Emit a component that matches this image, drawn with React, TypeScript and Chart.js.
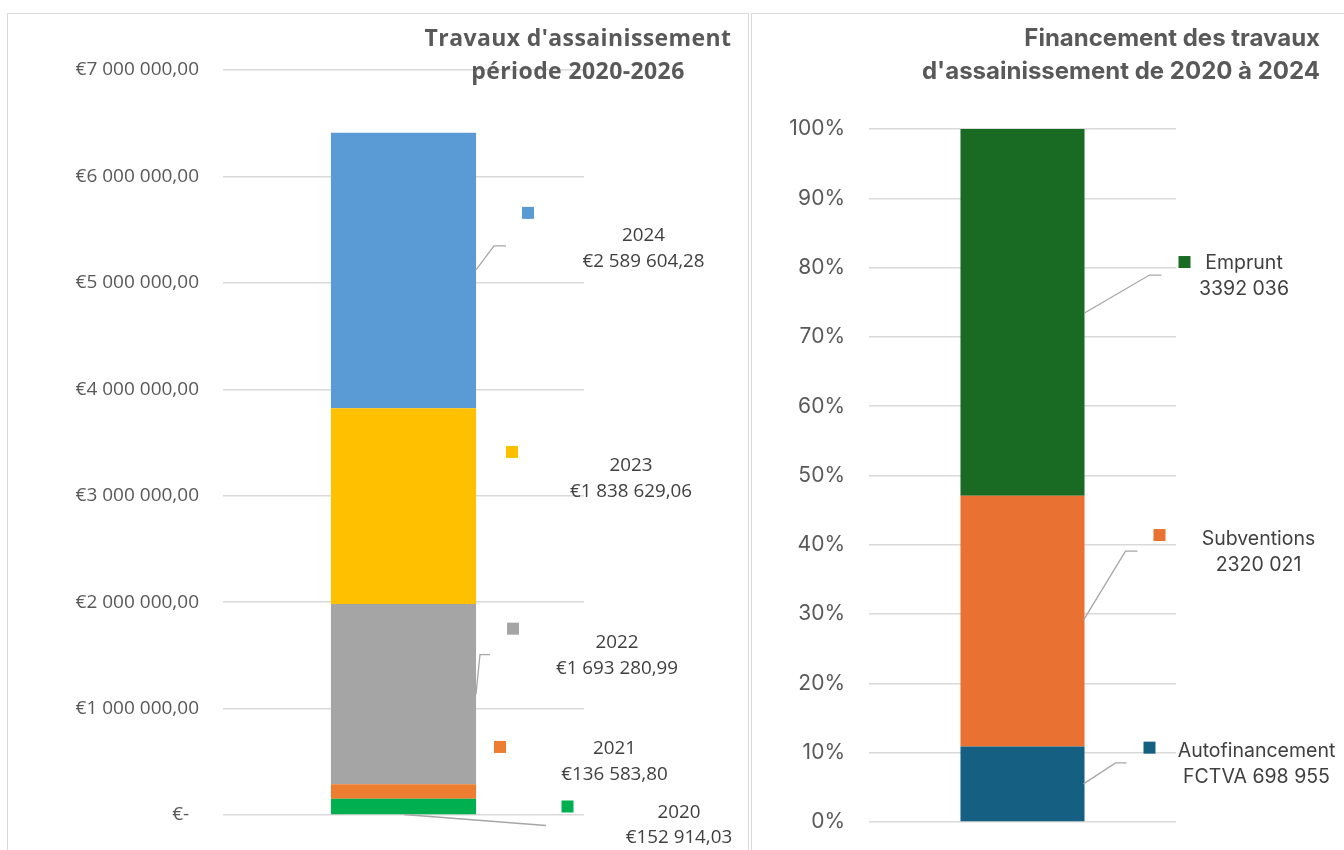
import React, { useEffect, useRef } from 'react';
import { Chart, registerables } from 'chart.js';

Chart.register(...registerables);

// ---------- Data: left chart (works per year) ----------
const worksYears = ['2020', '2021', '2022', '2023', '2024'];
const worksAmounts = [152914.03, 136583.8, 1693280.99, 1838629.06, 2589604.28];
const worksColors = ['#00B050', '#ED7D31', '#A5A5A5', '#FFC000', '#5B9BD5'];
const worksAxisMax = 7000000;
const worksAxisStep = 1000000;
const worksTitle = ["Travaux d'assainissement", 'période 2020-2026'];

// ---------- Data: right chart (financing) ----------
const fundingNames = ['Autofinancement FCTVA', 'Subventions', 'Emprunt'];
const fundingAmounts = [698955, 2320021, 3392036];
const fundingColors = ['#156082', '#E97132', '#196B24'];
const percentStep = 0.1;
const fundingTitle = ['Financement des travaux', "d'assainissement de 2020 à 2024"];

// ---------- Label placement (offsets from each segment's centre, px) ----------
type Lay = { tx: number; ty: number; kx: number; ky: number; leader: number[][] | null };
const worksLabelLayout: Lay[] = [
  { tx: 275.5, ty: 6, kx: 164, ky: 0, leader: [[0.5, 8], [142.5, 19]] },
  { tx: 211, ty: -42.8, kx: 96.5, ky: -44.5, leader: null },
  { tx: 213.5, ty: -51.4, kx: 109.5, ky: -65.4, leader: [[72.5, 0], [76.5, -39.4], [86.5, -39.4]] },
  { tx: 227.5, ty: -40.2, kx: 108.5, ky: -54.2, leader: null },
  { tx: 240, ty: -34.6, kx: 124.5, ky: -57.6, leader: [[72.5, -0.6], [90.5, -24.6], [102.5, -24.6]] },
];
const fundingLabelLayout: Lay[] = [
  { tx: 234, ty: -33.2, kx: 127, ky: -36.2, leader: [[61, 0], [93, -21], [104, -21]] },
  { tx: 236, ty: -82, kx: 137, ky: -86, leader: [[61, -1], [103, -70], [115, -70]] },
  { tx: 221.5, ty: -49.3, kx: 162, ky: -50.3, leader: [[62, 0.7], [127, -37.3], [139, -37.3]] },
];

const NB = '\u00a0';
function groupThousands(intStr: string, sep: string) {
  return intStr.replace(/\B(?=(\d{3})+(?!\d))/g, sep);
}
function fmtEuro(v: number, sep: string) {
  const [i, d] = Math.abs(v).toFixed(2).split('.');
  return '€' + groupThousands(i, sep) + ',' + d;
}
function fmtAxisEuro(v: number) {
  if (Math.abs(v) < 0.5) return '€-  ';
  return fmtEuro(v, ' ');
}
function fmtFunding(v: number) {
  const s = String(Math.round(v));
  return s.slice(0, -3) + NB + s.slice(-3);
}

function wrapText(ctx: CanvasRenderingContext2D, text: string, maxWidth: number) {
  const words = text.split(' ');
  const lines: string[] = [];
  let cur = '';
  for (const w of words) {
    const t = cur ? cur + ' ' + w : w;
    if (cur && ctx.measureText(t).width > maxWidth) {
      lines.push(cur);
      cur = w;
    } else cur = t;
  }
  if (cur) lines.push(cur);
  return lines;
}

const segmentLabels = {
  id: 'segmentLabels',
  afterDatasetsDraw(chart: any, _args: any, opts: any) {
    const ctx: CanvasRenderingContext2D = chart.ctx;
    ctx.save();
    chart.data.datasets.forEach((ds: any, i: number) => {
      const meta = chart.getDatasetMeta(i);
      const bar: any = meta.data[0];
      if (!bar) return;
      const cx = bar.x;
      const cy = (bar.y + bar.base) / 2;
      const L: Lay = opts.layout[i];
      if (L.leader) {
        ctx.beginPath();
        ctx.strokeStyle = opts.leaderColor;
        ctx.lineWidth = 1.3;
        L.leader.forEach(([dx, dy], k) => {
          if (k === 0) ctx.moveTo(cx + dx, cy + dy);
          else ctx.lineTo(cx + dx, cy + dy);
        });
        ctx.stroke();
      }
      ctx.fillStyle = ds.backgroundColor;
      ctx.fillRect(cx + L.kx - 6, cy + L.ky - 6, 12, 12);
      ctx.font = opts.font;
      ctx.fillStyle = opts.color;
      ctx.textAlign = 'center';
      ctx.textBaseline = 'middle';
      const lines = wrapText(ctx, opts.texts[i], opts.maxWidth);
      lines.forEach((ln, k) => ctx.fillText(ln, cx + L.tx, cy + L.ty + k * opts.lineHeight));
    });
    ctx.restore();
  },
};

const titleLines = {
  id: 'titleLines',
  afterDraw(chart: any, _args: any, opts: any) {
    const ctx: any = chart.ctx;
    ctx.save();
    ctx.font = opts.font;
    ctx.fillStyle = opts.color;
    ctx.textAlign = opts.align;
    ctx.textBaseline = 'alphabetic';
    if ('letterSpacing' in ctx) ctx.letterSpacing = opts.letterSpacing || '0px';
    opts.lines.forEach((ln: string, k: number) => ctx.fillText(ln, opts.x, opts.y + k * opts.lineHeight));
    ctx.restore();
  },
};

function fixAxis(width: number) {
  return (scale: any) => {
    scale.width = width;
    scale.paddingTop = 0;
    scale.paddingBottom = 0;
  };
}

function worksConfig(): any {
  return {
    type: 'bar',
    data: {
      labels: [''],
      datasets: worksYears.map((y, i) => ({
        label: y,
        data: [worksAmounts[i]],
        backgroundColor: worksColors[i],
        borderWidth: 0,
        barPercentage: 0.402,
        categoryPercentage: 1,
      })),
    },
    options: {
      responsive: false,
      animation: false,
      devicePixelRatio: 1,
      layout: { padding: { left: 0, top: 70, right: 166, bottom: 35 } },
      plugins: {
        legend: { display: false },
        tooltip: { enabled: false },
        title: { display: false },
        segmentLabels: {
          layout: worksLabelLayout,
          texts: worksYears.map((y, i) => y + ' ' + fmtEuro(worksAmounts[i], NB)),
          font: '18.8px "Open Sans"',
          color: '#404040',
          lineHeight: 25.5,
          maxWidth: 130,
          leaderColor: '#a6a6a6',
        },
        titleLines: {
          lines: worksTitle,
          x: 578,
          y: 46,
          lineHeight: 33,
          align: 'center',
          font: 'bold 23px "Open Sans"',
          letterSpacing: '0.4px',
          color: '#595959',
        },
      },
      scales: {
        x: { stacked: true, display: false },
        y: {
          stacked: true,
          min: 0,
          max: worksAxisMax,
          afterFit: fixAxis(223),
          ticks: {
            stepSize: worksAxisStep,
            callback: (v: any) => fmtAxisEuro(Number(v)),
            color: '#595959',
            font: { family: '"Open Sans"', size: 19 },
            padding: 24,
          },
          grid: { color: '#d9d9d9', lineWidth: 1.5, drawTicks: false },
          border: { display: false },
        },
      },
    },
    plugins: [segmentLabels, titleLines],
  };
}

function fundingConfig(): any {
  const total = fundingAmounts.reduce((a, b) => a + b, 0);
  return {
    type: 'bar',
    data: {
      labels: [''],
      datasets: fundingNames.map((n, i) => ({
        label: n,
        data: [fundingAmounts[i] / total],
        backgroundColor: fundingColors[i],
        borderWidth: 0,
        barPercentage: 0.404,
        categoryPercentage: 1,
      })),
    },
    options: {
      responsive: false,
      animation: false,
      devicePixelRatio: 1,
      layout: { padding: { left: 0, top: 129, right: 168, bottom: 28 } },
      plugins: {
        legend: { display: false },
        tooltip: { enabled: false },
        title: { display: false },
        segmentLabels: {
          layout: fundingLabelLayout,
          texts: fundingNames.map((n, i) => n + ' ' + fmtFunding(fundingAmounts[i])),
          font: '19.5px Inter',
          color: '#404040',
          lineHeight: 26.5,
          maxWidth: 150,
          leaderColor: '#a6a6a6',
        },
        titleLines: {
          lines: fundingTitle,
          x: 570,
          y: 46,
          lineHeight: 33,
          align: 'right',
          font: 'bold 24px Inter',
          letterSpacing: '0px',
          color: '#595959',
        },
      },
      scales: {
        x: { stacked: true, display: false },
        y: {
          stacked: true,
          min: 0,
          max: 1,
          afterFit: fixAxis(119),
          ticks: {
            stepSize: percentStep,
            callback: (v: any) => Math.round(Number(v) * 100) + '%',
            color: '#595959',
            font: { family: 'Inter', size: 21 },
            padding: 24,
          },
          grid: { color: '#d9d9d9', lineWidth: 1.5, drawTicks: false },
          border: { display: false },
        },
      },
    },
    plugins: [segmentLabels, titleLines],
  };
}

export default function App() {
  const leftRef = useRef<HTMLCanvasElement>(null);
  const rightRef = useRef<HTMLCanvasElement>(null);
  useEffect(() => {
    const c1 = new Chart(leftRef.current as HTMLCanvasElement, worksConfig());
    const c2 = new Chart(rightRef.current as HTMLCanvasElement, fundingConfig());
    return () => {
      c1.destroy();
      c2.destroy();
    };
  }, []);
  return (
    <div style={{ position: 'absolute', left: 0, top: 0, width: 1344, height: 850, overflow: 'hidden', background: '#fff' }}>
      <div style={{ position: 'absolute', left: 7, top: 13, width: 742, height: 900, border: '1.5px solid #d9d9d9', boxSizing: 'border-box' }} />
      <div style={{ position: 'absolute', left: 751, top: 13, width: 700, height: 900, border: '1.5px solid #d9d9d9', boxSizing: 'border-box' }} />
      <canvas ref={leftRef} width={750} height={850} style={{ position: 'absolute', left: 0, top: 0, width: 750, height: 850 }} />
      <canvas ref={rightRef} width={594} height={850} style={{ position: 'absolute', left: 750, top: 0, width: 594, height: 850 }} />
    </div>
  );
}
